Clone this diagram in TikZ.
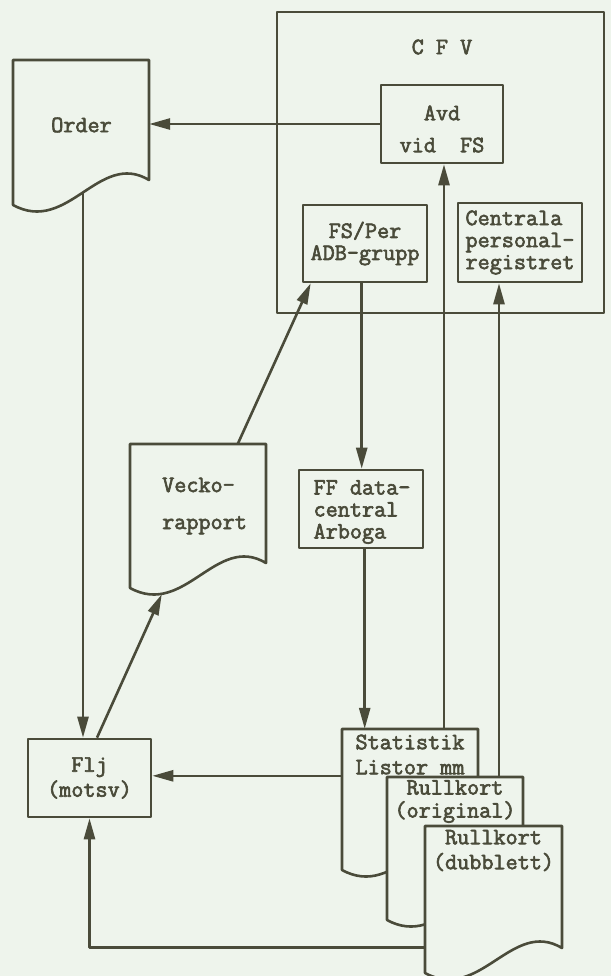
\documentclass[tikz,border=0pt]{standalone}
\usepackage{fontspec}
\usetikzlibrary{arrows.meta,calc}
\newfontfamily\tw{Latin Modern Mono}[FakeBold=2.6]
\definecolor{paper}{HTML}{EEF4EC}
\definecolor{ink}{HTML}{4A4B3A}
\newcommand\twfont{\tw\fontsize{23.5}{22}\selectfont}
\tikzset{
  ln/.style={draw=ink, line width=2.6pt, line join=round},
  arr/.style={ln, -{Triangle[length=21pt,width=11pt]}},
  box/.style={ln, rectangle, inner sep=0pt, fill=paper, font=\twfont, text=ink},
  docnode/.style={rectangle, inner sep=0pt, draw=none},
  txt/.style={inner sep=0pt, font=\twfont, text=ink},
}
\newcommand\docfig[6]{%
  \node[docnode, minimum width={#4-#2}, minimum height={#5-#3}] (#1) at ({(#2+#4)/2},{(#3+#5)/2}) {};
  \filldraw[ln, fill=paper] (#2,#3) -- (#4,#3) -- (#4,#5) .. controls ({#4-50},{#5-30}) and ({#2+55},{#6+30}) .. (#2,#6) -- cycle;
}
\begin{document}
\begin{tikzpicture}[x=1pt,y=-1pt]
\useasboundingbox (0,0) rectangle (611,976);
\fill[paper] (0,0) rectangle (611,976);
% CFV frame
\node[box, minimum width=327, minimum height=301] (cfv) at (440.5,162.5) {};
\node[txt] (cfvlbl) at (442,47) {C F V};
% boxes
\node[box, minimum width=122, minimum height=78] (avd) at (442,124) {};
\node[txt, align=center] (avdtxt) at (442,129) {Avd\\[10pt]vid\ \ FS};
\node[box, minimum width=124, minimum height=77, align=center] (fsper) at (365,243.5) {FS/Per\\ADB-grupp};
\node[box, minimum width=124, minimum height=79, align=left] (centrala) at (520,242.5) {Centrala\\personal-\\registret};
\node[box, minimum width=124, minimum height=78] (ff) at (361,509) {};
\node[txt, align=left] (fftxt) at (362,512) {FF data-\\central\\Arboga};
\node[box, minimum width=123, minimum height=78, align=center] (flj) at (89.5,778) {Flj\\[3pt](motsv)};
% documents
\docfig{order}{13}{60}{149}{180}{205}
\node[txt] (ordertxt) at (81.5,125) {Order};
\docfig{vecko}{130}{444}{266}{563}{588}
\node[txt, align=left, anchor=west] (veckotxt) at (162,506) {Vecko-\\[15pt]rapport};
\docfig{stat}{342}{729}{478}{845}{870}
\node[txt, align=center] (stattxt) at (410,754.5) {Statistik\\[3pt]Listor mm};
\docfig{orig}{387}{777}{523}{895}{920}
\node[txt, align=center] (origtxt) at (455,801.5) {Rullkort\\[1pt](original)};
\docfig{dub}{425}{826}{562}{948}{973}
\node[txt, align=center] (dubtxt) at (493.5,850.5) {Rullkort\\[3pt](dubblett)};
% helper coordinates on node borders
\coordinate (o1) at ($(order.south)+(2,12.5)$);
\coordinate (f1) at ($(fsper.south west)+(60,0)$);
\coordinate (f2) at ($(ff.south west)+(67,0)$);
\coordinate (a2) at ($(avd.south)+(2,0)$);
\coordinate (c2) at ($(centrala.south)+(-21,0)$);
\coordinate (s2) at ($(stat.north west)+(0,47)$);
\coordinate (d2) at ($(dub.south west)+(0,-1)$);
% connectors
\draw[arr] (avd.west) -- (avd.west -| order.east);
\draw[arr] (o1) -- (o1 |- flj.north);
\draw[arr] ($(flj.north)+(7.5,0)$) -- ($(vecko.south west)+(32,31)$);
\draw[arr] ($(vecko.north west)+(108,0)$) -- ($(fsper.south west)+(9,0)$);
\draw[arr] (f1) -- (f1 |- ff.north);
\draw[arr] (f2) -- (f2 |- stat.north);
\draw[arr] (a2 |- stat.north) -- (a2);
\draw[arr] (c2 |- orig.north) -- (c2);
\draw[arr] (s2) -- (s2 -| flj.east);
\draw[arr] (d2) -| (flj.south);
\end{tikzpicture}
\end{document}
